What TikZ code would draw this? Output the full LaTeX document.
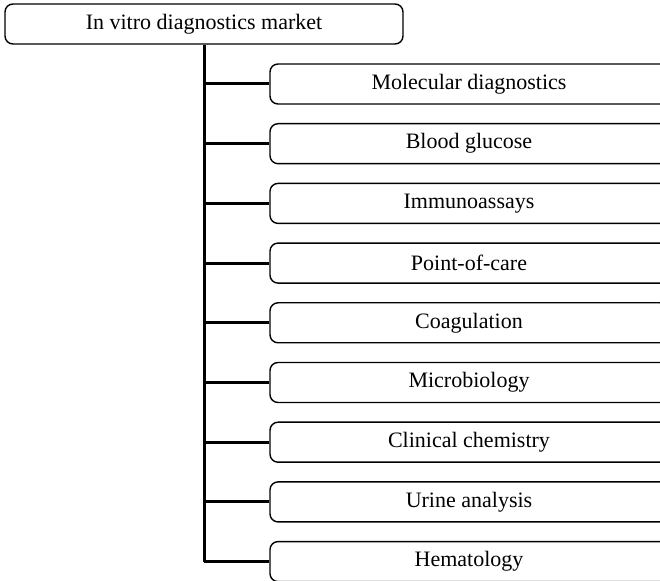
\documentclass[tikz,border=0pt]{standalone}
\usepackage{fontspec}
\setmainfont{Liberation Serif}
\usetikzlibrary{positioning}
\usetikzlibrary{calc}

\begin{document}
\begin{tikzpicture}[x=0.5pt, y=-0.5pt, every node/.style={font=\fontsize{11}{13}\selectfont}, catbox/.style={draw, rounded corners=4pt, line width=0.7pt, minimum width=199pt, minimum height=20pt, inner sep=0pt}, branch/.style={line width=1.5pt}]
        % Define the gap between two sub-market boxes
        \def\gap{59.7}

        % Clip to the frame of the picture
        \clip (0,0) rectangle (660,581);

        % Draw the market box
        \node[catbox] (root) at (204,24) {In vitro diagnostics market};

        % Draw the sub-market boxes and connect them to the trunk
        \foreach \name [count=\i from 0] in {Molecular diagnostics, Blood glucose, Immunoassays, Point-of-care, Coagulation, Microbiology, Clinical chemistry, Urine analysis, Hematology}
        {
          \node[catbox] (c\i) at (469, {84 + \gap*\i}) {\name};
          \coordinate (t\i) at (root.south |- c\i.west);
          \draw[branch] (t\i) -- (c\i.west);
        }

        % Draw the trunk
        \draw[branch] (root.south) -- (t8);
      \end{tikzpicture}
\end{document}
